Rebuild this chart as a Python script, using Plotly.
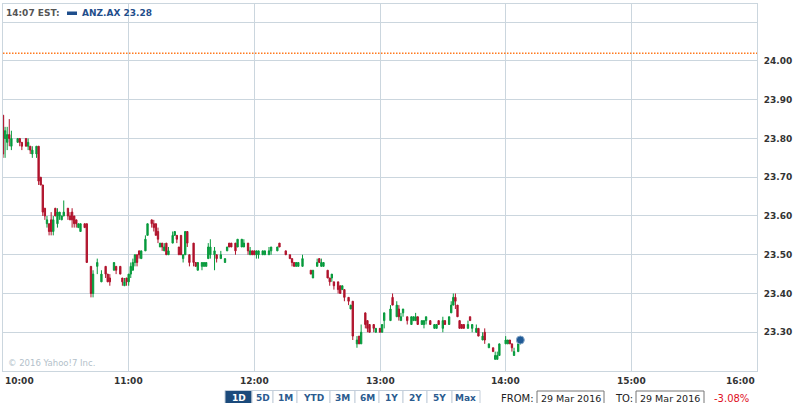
import pandas as pd
import plotly.graph_objects as go

# ---------------- data ----------------
symbol = "ANZ.AX"
trade_date = "2016-03-29"
clock_label = "14:07 EST:"
prev_close = 24.02

minutes = [0, 1, 2, 3, 4, 7, 8, 9, 11, 12,
           13, 14, 16, 17, 18, 19, 20, 21, 22, 23,
           24, 25, 26, 27, 28, 29, 31, 32, 33, 34,
           35, 36, 37, 39, 40, 42, 43, 45, 47, 49,
           50, 51, 53, 54, 56, 57, 58, 59, 60, 61,
           62, 63, 64, 65, 66, 68, 69, 71, 72, 73,
           74, 75, 76, 77, 78, 79, 81, 82, 83, 84,
           85, 86, 87, 88, 89, 91, 92, 93, 95, 96,
           97, 98, 99, 101, 102, 104, 106, 107, 108, 109,
           111, 112, 114, 115, 117, 118, 119, 120, 121, 122,
           124, 125, 127, 128, 131, 132, 135, 137, 138, 139,
           140, 141, 143, 147, 148, 150, 151, 152, 153, 155,
           156, 157, 158, 160, 161, 162, 163, 165, 166, 167,
           169, 170, 171, 173, 174, 175, 177, 178, 180, 181,
           182, 185, 186, 188, 189, 190, 191, 193, 195, 196,
           197, 198, 200, 201, 202, 204, 206, 207, 208, 210,
           211, 213, 214, 215, 216, 217, 218, 219, 220, 222,
           223, 224, 226, 227, 229, 230, 232, 234, 235, 236,
           237, 240, 241, 242, 243, 244, 246, 247]

opens = [23.86, 23.80, 23.79, 23.81, 23.78, 23.79, 23.80, 23.79, 23.80, 23.78,
         23.78, 23.76, 23.76, 23.78, 23.70, 23.68, 23.62, 23.58, 23.58, 23.59,
         23.56, 23.62, 23.58, 23.60, 23.59, 23.60, 23.62, 23.60, 23.61, 23.60,
         23.59, 23.57, 23.56, 23.58, 23.58, 23.47, 23.40, 23.47, 23.43, 23.47,
         23.45, 23.44, 23.46, 23.47, 23.47, 23.44, 23.42, 23.44, 23.43, 23.45,
         23.46, 23.48, 23.50, 23.51, 23.49, 23.51, 23.55, 23.59, 23.58, 23.58,
         23.56, 23.52, 23.53, 23.51, 23.53, 23.50, 23.53, 23.55, 23.55, 23.52,
         23.55, 23.49, 23.50, 23.56, 23.50, 23.53, 23.48, 23.46, 23.47, 23.47,
         23.47, 23.49, 23.50, 23.50, 23.50, 23.49, 23.48, 23.51, 23.53, 23.53,
         23.53, 23.52, 23.52, 23.52, 23.53, 23.50, 23.51, 23.51, 23.50, 23.50,
         23.50, 23.50, 23.50, 23.51, 23.51, 23.53, 23.51, 23.50, 23.49, 23.48,
         23.47, 23.47, 23.47, 23.46, 23.44, 23.47, 23.49, 23.47, 23.47, 23.46,
         23.44, 23.44, 23.43, 23.43, 23.42, 23.41, 23.41, 23.39, 23.36, 23.38,
         23.27, 23.29, 23.27, 23.35, 23.33, 23.32, 23.32, 23.30, 23.31, 23.30,
         23.33, 23.33, 23.39, 23.34, 23.36, 23.33, 23.35, 23.34, 23.32, 23.33,
         23.33, 23.34, 23.32, 23.32, 23.33, 23.33, 23.31, 23.31, 23.33, 23.31,
         23.33, 23.32, 23.35, 23.37, 23.39, 23.37, 23.33, 23.32, 23.32, 23.31,
         23.34, 23.31, 23.30, 23.31, 23.28, 23.30, 23.26, 23.26, 23.23, 23.23,
         23.24, 23.27, 23.27, 23.28, 23.27, 23.24, 23.25, 23.27]

highs = [23.86, 23.83, 23.83, 23.85, 23.82, 23.80, 23.80, 23.79, 23.80, 23.80,
         23.78, 23.78, 23.78, 23.78, 23.70, 23.68, 23.62, 23.60, 23.58, 23.61,
         23.60, 23.62, 23.62, 23.61, 23.60, 23.64, 23.62, 23.61, 23.62, 23.60,
         23.59, 23.58, 23.58, 23.58, 23.58, 23.47, 23.46, 23.49, 23.46, 23.47,
         23.45, 23.45, 23.48, 23.47, 23.47, 23.44, 23.44, 23.44, 23.45, 23.48,
         23.49, 23.50, 23.50, 23.51, 23.51, 23.55, 23.58, 23.59, 23.59, 23.58,
         23.57, 23.53, 23.53, 23.53, 23.53, 23.52, 23.56, 23.56, 23.55, 23.52,
         23.55, 23.50, 23.56, 23.56, 23.50, 23.53, 23.48, 23.48, 23.48, 23.48,
         23.48, 23.53, 23.54, 23.52, 23.50, 23.51, 23.49, 23.52, 23.53, 23.53,
         23.53, 23.54, 23.54, 23.54, 23.53, 23.52, 23.51, 23.51, 23.51, 23.51,
         23.51, 23.51, 23.52, 23.52, 23.52, 23.53, 23.51, 23.50, 23.49, 23.48,
         23.48, 23.48, 23.50, 23.46, 23.46, 23.49, 23.49, 23.49, 23.48, 23.46,
         23.44, 23.45, 23.43, 23.43, 23.42, 23.42, 23.41, 23.39, 23.37, 23.38,
         23.29, 23.29, 23.32, 23.35, 23.33, 23.32, 23.32, 23.31, 23.31, 23.32,
         23.35, 23.37, 23.40, 23.38, 23.37, 23.35, 23.36, 23.34, 23.34, 23.34,
         23.35, 23.34, 23.33, 23.33, 23.34, 23.33, 23.32, 23.32, 23.33, 23.34,
         23.33, 23.34, 23.38, 23.40, 23.40, 23.37, 23.33, 23.32, 23.32, 23.33,
         23.34, 23.32, 23.32, 23.31, 23.30, 23.31, 23.27, 23.26, 23.25, 23.25,
         23.27, 23.29, 23.28, 23.28, 23.27, 23.26, 23.27, 23.28]

lows = [23.75, 23.75, 23.77, 23.78, 23.77, 23.79, 23.78, 23.77, 23.78, 23.77,
        23.76, 23.75, 23.75, 23.68, 23.68, 23.60, 23.59, 23.57, 23.55, 23.55,
        23.55, 23.60, 23.57, 23.59, 23.59, 23.60, 23.59, 23.59, 23.57, 23.57,
        23.57, 23.57, 23.56, 23.57, 23.48, 23.39, 23.39, 23.45, 23.43, 23.44,
        23.43, 23.42, 23.46, 23.45, 23.45, 23.42, 23.42, 23.42, 23.42, 23.44,
        23.46, 23.47, 23.47, 23.49, 23.49, 23.51, 23.55, 23.57, 23.56, 23.55,
        23.53, 23.52, 23.51, 23.51, 23.50, 23.50, 23.53, 23.55, 23.53, 23.50,
        23.50, 23.48, 23.50, 23.52, 23.47, 23.47, 23.47, 23.46, 23.46, 23.47,
        23.47, 23.49, 23.49, 23.46, 23.48, 23.49, 23.48, 23.51, 23.52, 23.52,
        23.50, 23.52, 23.52, 23.52, 23.50, 23.50, 23.50, 23.50, 23.49, 23.49,
        23.50, 23.50, 23.50, 23.50, 23.51, 23.52, 23.50, 23.49, 23.47, 23.47,
        23.47, 23.47, 23.47, 23.45, 23.44, 23.47, 23.48, 23.47, 23.47, 23.44,
        23.42, 23.43, 23.41, 23.40, 23.40, 23.41, 23.38, 23.37, 23.36, 23.28,
        23.26, 23.27, 23.27, 23.31, 23.30, 23.30, 23.30, 23.30, 23.30, 23.30,
        23.31, 23.33, 23.37, 23.34, 23.33, 23.33, 23.34, 23.32, 23.32, 23.33,
        23.33, 23.32, 23.32, 23.31, 23.32, 23.32, 23.31, 23.31, 23.32, 23.30,
        23.32, 23.32, 23.35, 23.37, 23.36, 23.34, 23.31, 23.31, 23.31, 23.31,
        23.33, 23.30, 23.30, 23.29, 23.28, 23.27, 23.26, 23.25, 23.23, 23.23,
        23.24, 23.27, 23.27, 23.27, 23.25, 23.24, 23.25, 23.27]

closes = [23.76, 23.82, 23.81, 23.80, 23.80, 23.80, 23.79, 23.78, 23.78, 23.79,
          23.77, 23.77, 23.78, 23.69, 23.68, 23.61, 23.60, 23.59, 23.56, 23.56,
          23.59, 23.60, 23.61, 23.61, 23.60, 23.61, 23.60, 23.59, 23.59, 23.58,
          23.58, 23.58, 23.58, 23.57, 23.48, 23.40, 23.45, 23.48, 23.45, 23.45,
          23.43, 23.43, 23.48, 23.46, 23.45, 23.43, 23.43, 23.43, 23.45, 23.47,
          23.48, 23.50, 23.48, 23.50, 23.51, 23.54, 23.58, 23.58, 23.57, 23.55,
          23.54, 23.53, 23.52, 23.52, 23.50, 23.51, 23.55, 23.56, 23.54, 23.50,
          23.50, 23.50, 23.56, 23.53, 23.48, 23.48, 23.47, 23.48, 23.48, 23.48,
          23.48, 23.52, 23.52, 23.51, 23.49, 23.50, 23.49, 23.52, 23.52, 23.52,
          23.51, 23.54, 23.54, 23.53, 23.51, 23.51, 23.50, 23.50, 23.51, 23.51,
          23.51, 23.51, 23.51, 23.52, 23.52, 23.52, 23.50, 23.49, 23.48, 23.47,
          23.48, 23.48, 23.49, 23.45, 23.46, 23.48, 23.48, 23.48, 23.48, 23.44,
          23.43, 23.45, 23.42, 23.41, 23.40, 23.42, 23.39, 23.38, 23.37, 23.29,
          23.28, 23.27, 23.30, 23.32, 23.31, 23.30, 23.31, 23.31, 23.30, 23.32,
          23.35, 23.36, 23.37, 23.37, 23.34, 23.34, 23.36, 23.33, 23.34, 23.34,
          23.34, 23.32, 23.33, 23.33, 23.34, 23.32, 23.32, 23.32, 23.32, 23.33,
          23.32, 23.34, 23.37, 23.39, 23.38, 23.34, 23.31, 23.31, 23.31, 23.32,
          23.33, 23.32, 23.31, 23.29, 23.29, 23.28, 23.27, 23.25, 23.24, 23.24,
          23.27, 23.28, 23.28, 23.27, 23.26, 23.25, 23.27, 23.28]

hour_labels = ["10:00", "11:00", "12:00", "13:00", "14:00", "15:00", "16:00"]
price_ticks = [23.30, 23.40, 23.50, 23.60, 23.70, 23.80, 23.90, 24.00, 24.10]
range_buttons = ["1D", "5D", "1M", "YTD", "3M", "6M", "1Y", "2Y", "5Y", "Max"]
from_date = "29 Mar 2016"
to_date = "29 Mar 2016"

# ---------------- styles ----------------
W, H = 799, 403
ML, MR, MT, MB = 3, 42, 4, 32
RED = "#b0122b"
GREEN = "#069a3c"
GRID = "#cbd6de"
BLUE = "#1f4e8c"
LABEL = "#333333"
FONT = "DejaVu Sans"


def px(x):
    return (x - ML) / (W - ML - MR)


def py(y):
    return (H - MB - y) / (H - MT - MB)


base = pd.Timestamp(f"{trade_date} 10:00")
times = base + pd.to_timedelta(minutes, unit="min")
hour_times = [pd.Timestamp(f"{trade_date} {h}") for h in hour_labels]

fig = go.Figure()
fig.add_trace(go.Candlestick(
    x=times, open=opens, high=highs, low=lows, close=closes,
    increasing=dict(line=dict(color=GREEN, width=1), fillcolor=GREEN),
    decreasing=dict(line=dict(color=RED, width=1), fillcolor=RED),
    whiskerwidth=0, hoverinfo="skip", showlegend=False,
))
fig.add_trace(go.Scatter(
    x=[times[-1]], y=[closes[-1]], mode="markers",
    marker=dict(size=8, color="#1f5a96", line=dict(color="#8aa9c9", width=1)),
    hoverinfo="skip", showlegend=False,
))

shapes = []
annotations = []

# previous close line
shapes.append(dict(type="line", xref="paper", x0=0, x1=1, yref="y",
                   y0=prev_close, y1=prev_close,
                   line=dict(color="#ff7a1f", width=1.5, dash="1.5px,1.5px")))

# x tick labels
for i, (lab, t) in enumerate(zip(hour_labels, hour_times)):
    anchor = "left" if i == 0 else ("right" if i == len(hour_labels) - 1 else "center")
    annotations.append(dict(x=t, xref="x", y=0, yref="paper", yshift=-10,
                            text=lab, showarrow=False, xanchor=anchor, yanchor="middle",
                            font=dict(family=FONT, size=9, color=LABEL, weight="bold")))

# header
annotations.append(dict(x=px(4), y=py(13.5), xref="paper", yref="paper", text=clock_label,
                        showarrow=False, xanchor="left", yanchor="middle",
                        font=dict(family=FONT, size=9, color="#555555", weight="bold")))
shapes.append(dict(type="rect", xref="paper", yref="paper", x0=px(67), x1=px(77),
                   y0=py(15), y1=py(11.5), fillcolor=BLUE, line=dict(width=0)))
annotations.append(dict(x=px(80), y=py(13.5), xref="paper", yref="paper",
                        text=f"{symbol} {closes[-1]:.2f}",
                        showarrow=False, xanchor="left", yanchor="middle",
                        font=dict(family=FONT, size=9, color=BLUE, weight="bold")))

# copyright
annotations.append(dict(x=px(6), y=py(363), xref="paper", yref="paper",
                        text="© 2016 Yahoo!7 Inc.", showarrow=False,
                        xanchor="left", yanchor="middle",
                        font=dict(family=FONT, size=8.5, color="#b3bfca")))

# range buttons
edges = [225, 252, 273, 297, 330, 355, 379, 403, 427, 452, 480]
for k, lab in enumerate(range_buttons):
    sel = k == 0
    shapes.append(dict(type="rect", xref="paper", yref="paper",
                       x0=px(edges[k]), x1=px(edges[k + 1]), y0=py(412), y1=py(390.5),
                       fillcolor="#1b4a7b" if sel else "#ffffff",
                       line=dict(color="#c3ceda", width=1)))
    annotations.append(dict(x=px((edges[k] + edges[k + 1]) / 2), y=py(398),
                            xref="paper", yref="paper", text=lab, showarrow=False,
                            xanchor="center", yanchor="middle",
                            font=dict(family=FONT, size=9,
                                      color="#ffffff" if sel else "#2b5b8f", weight="bold")))

# date boxes
for x0, x1 in [(537, 604), (636, 704)]:
    shapes.append(dict(type="rect", xref="paper", yref="paper", x0=px(x0), x1=px(x1),
                       y0=py(412), y1=py(391), fillcolor="#ffffff",
                       line=dict(color="#777777", width=1)))
annotations.append(dict(x=px(536), y=py(398), xref="paper", yref="paper", text="FROM:",
                        showarrow=False, xanchor="right", yanchor="middle",
                        font=dict(family=FONT, size=10, color="#222222")))
annotations.append(dict(x=px(539), y=py(398), xref="paper", yref="paper", text=from_date,
                        showarrow=False, xanchor="left", yanchor="middle",
                        font=dict(family=FONT, size=9.5, color="#222222")))
annotations.append(dict(x=px(635), y=py(398), xref="paper", yref="paper", text="TO:",
                        showarrow=False, xanchor="right", yanchor="middle",
                        font=dict(family=FONT, size=10, color="#222222")))
annotations.append(dict(x=px(638), y=py(398), xref="paper", yref="paper", text=to_date,
                        showarrow=False, xanchor="left", yanchor="middle",
                        font=dict(family=FONT, size=9.5, color="#222222")))
pct = (closes[-1] - prev_close) / prev_close * 100
annotations.append(dict(x=px(712), y=py(398), xref="paper", yref="paper",
                        text=f"{pct:.2f}%", showarrow=False, xanchor="left", yanchor="middle",
                        font=dict(family=FONT, size=10, color="#e0101e")))

fig.update_layout(
    width=W, height=H,
    margin=dict(l=ML, r=MR, t=MT, b=MB, pad=0),
    paper_bgcolor="white", plot_bgcolor="white",
    showlegend=False, boxgap=0.1,
    shapes=shapes, annotations=annotations,
    xaxis=dict(type="date", range=[hour_times[0], hour_times[-1]],
               tickvals=hour_times, showticklabels=False, ticks="",
               showgrid=True, gridcolor=GRID, gridwidth=1,
               showline=True, mirror=True, linecolor=GRID, linewidth=1,
               zeroline=False, rangeslider=dict(visible=False), fixedrange=True),
    yaxis=dict(side="right", range=[23.2, 24.147],
               tickvals=price_ticks,
               ticktext=[f"{v:.2f}" if v < 24.05 else "" for v in price_ticks],
               ticks="", ticklabelstandoff=4,
               tickfont=dict(family=FONT, size=9, color=LABEL, weight="bold"),
               showgrid=True, gridcolor=GRID, gridwidth=1,
               showline=True, mirror=True, linecolor=GRID, linewidth=1,
               zeroline=False, fixedrange=True),
)

fig.write_html("out.html", config={"displayModeBar": False},
               post_script="document.body.style.margin='0';")
